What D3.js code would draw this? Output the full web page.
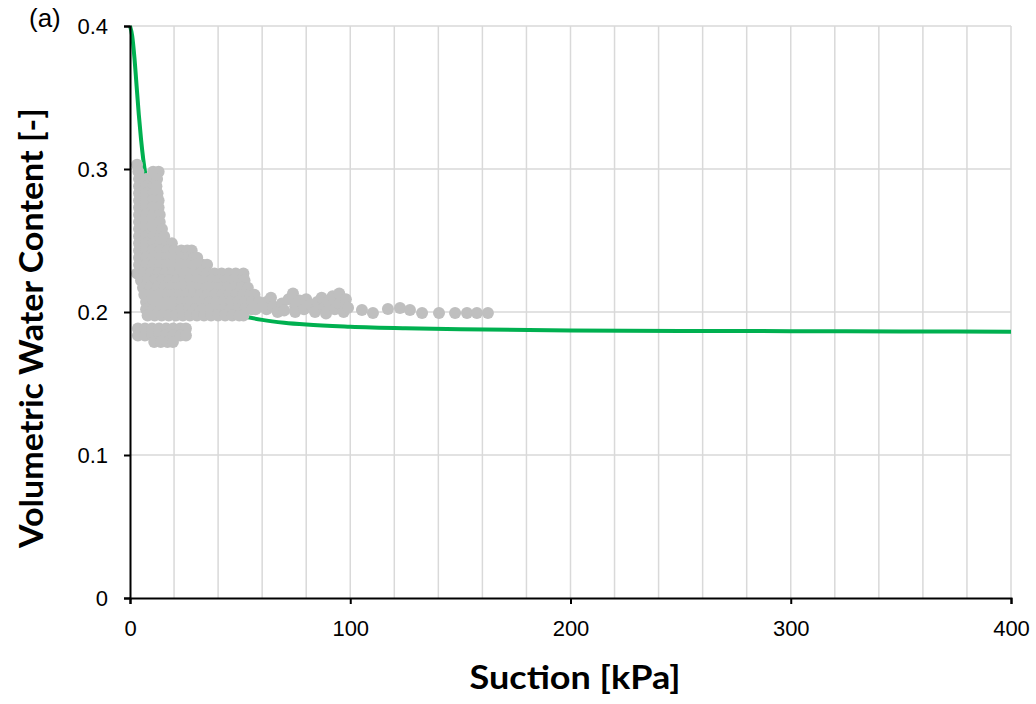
<!DOCTYPE html>
<html>
<head>
<meta charset="utf-8">
<script src="https://cdn.jsdelivr.net/npm/d3@7"></script>
<style>
  body { margin: 0; background: #fff; }
  .tick text { font-family: "Liberation Sans", Arial, sans-serif; font-size: 22px; fill: #000; }
  .title { font-family: Lato, "Open Sans", sans-serif; font-weight: bold; font-size: 33px; fill: #000; }
</style>
</head>
<body>
<svg width="1036" height="704"></svg>
<script>
// fitted retention curve (green)
var curveSuction = [0, 1, 2, 3, 4, 5, 6, 7, 8, 10, 12, 15, 20, 25, 30, 40, 50, 60, 70, 80, 100, 125, 150, 200, 250, 300, 350, 400];
var curveTheta = [0.400, 0.393, 0.378, 0.358, 0.338, 0.321, 0.307, 0.296, 0.286, 0.269, 0.256, 0.241, 0.226, 0.216, 0.209, 0.2015, 0.1975, 0.1945, 0.1925, 0.1912, 0.1897, 0.1886, 0.1879, 0.1871, 0.1868, 0.1866, 0.1864, 0.1862];

// measured points, dense part grouped by water content: [theta, suctions]
var cloudRows = [
    [0.303, [3.2]],
    [0.298, [3.8, 10.5, 13]],
    [0.293, [4.1, 7.3, 10.5, 12.3]],
    [0.288, [4.1, 7.3, 10.5, 12]],
    [0.283, [4.1, 7.3, 10.5, 12.5]],
    [0.278, [4.1, 7.3, 10.5, 13]],
    [0.273, [4.1, 7.3, 10.5, 13]],
    [0.268, [4.1, 7.3, 10.5, 13.5]],
    [0.263, [4.1, 7.3, 10.5, 13.5]],
    [0.258, [4.1, 7.3, 10.5, 13.7, 14.5]],
    [0.253, [4.1, 7.3, 10.5, 13.7, 15.5]],
    [0.248, [4.1, 7.3, 10.5, 13.7, 16.9, 19]],
    [0.243, [4.1, 7.3, 10.5, 13.7, 16.9, 20.1, 23.3, 26, 28]],
    [0.238, [4.1, 7.3, 10.5, 13.7, 16.9, 20.1, 23.3, 26.5, 29, 30.5]],
    [0.233, [4.1, 7.3, 10.5, 13.7, 16.9, 20.1, 23.3, 26.5, 29.7, 32.9, 35]],
    [0.227, [3.2, 6.4, 9.6, 12.8, 16, 19.2, 22.4, 25.6, 28.8, 32, 35.2, 38.4, 41.6, 44.8, 48, 51.5]],
    [0.222, [5, 8.2, 11.4, 14.6, 17.8, 21, 24.2, 27.4, 30.6, 33.8, 37, 40.2, 43.4, 46.6, 49.8, 52]],
    [0.217, [5.9, 9.1, 12.3, 15.5, 18.7, 21.9, 25.1, 28.3, 31.5, 34.7, 37.9, 41.1, 44.3, 47.5, 50.7, 53.5]],
    [0.212, [6.5, 9.7, 12.9, 16.1, 19.3, 22.5, 25.7, 28.9, 32.1, 35.3, 38.5, 41.7, 44.9, 48.1, 51.3, 54.5, 56.5]],
    [0.207, [7.3, 10.5, 13.7, 16.9, 20.1, 23.3, 26.5, 29.7, 32.9, 36.1, 39.3, 42.5, 45.7, 48.9, 52.1, 55.3, 58.5]],
    [0.202, [7.3, 10.5, 13.7, 16.9, 20.1, 23.3, 26.5, 29.7, 32.9, 36.1, 39.3, 42.5, 45.7, 48.9, 52.1, 55.3, 57]],
    [0.1975, [8, 11.2, 14.4, 17.6, 20.8, 24, 27.2, 30.4, 33.6, 36.8, 40, 43.2, 46.4, 49.6, 51.5]],
    [0.1885, [3.6, 6.8, 10, 13.2, 16.4, 19.6, 22.8, 25.4]],
    [0.1835, [3.6, 6.8, 10, 13.2, 16.4, 19.6, 22.8, 25.4]],
    [0.179, [11, 14, 17, 19.5]]
];

// scattered points at higher suction
var sparseSuction = [62, 62, 64, 65, 67, 69, 70, 72, 74, 75, 75, 77, 79, 80, 82, 84, 85, 87, 88, 89, 90, 92, 93, 95, 95, 97, 98, 99,
    105.3, 110.3, 117.1, 122.6, 127.1, 132.6, 140.3, 147.6, 153, 157.5, 162.5];
var sparseTheta = [0.207, 0.202, 0.210, 0.204, 0.200, 0.206, 0.201, 0.209, 0.213, 0.204, 0.200, 0.208, 0.202, 0.209, 0.205, 0.200, 0.207, 0.210, 0.203, 0.199, 0.207, 0.211, 0.202, 0.213, 0.206, 0.200, 0.209, 0.203,
    0.2014, 0.1993, 0.2021, 0.2028, 0.2014, 0.1993, 0.1993, 0.1993, 0.1993, 0.1993, 0.1993];

var xTicks = [0, 100, 200, 300, 400];
var yTicks = [0, 0.1, 0.2, 0.3, 0.4];

var points = [];
cloudRows.forEach(r => r[1].forEach(s => points.push({ s: s, t: r[0] })));
sparseSuction.forEach((s, i) => points.push({ s: s, t: sparseTheta[i] }));

var svg = d3.select("svg");
var x = d3.scaleLinear().domain([0, 400]).range([130, 1011]);
var y = d3.scaleLinear().domain([0, 0.4]).range([598, 26]);

// grid
svg.append("g")
    .selectAll("line")
    .data(d3.range(20, 401, 20))
    .join("line")
    .attr("x1", d => x(d)).attr("x2", d => x(d))
    .attr("y1", y(0)).attr("y2", y(0.4))
    .attr("stroke", "#d9d9d9").attr("stroke-width", 1.5);
svg.append("g")
    .selectAll("line")
    .data(yTicks.slice(1))
    .join("line")
    .attr("x1", x(0)).attr("x2", x(400))
    .attr("y1", d => y(d)).attr("y2", d => y(d))
    .attr("stroke", "#d9d9d9").attr("stroke-width", 1.5);

// curve first, points drawn on top
var line = d3.line().x(d => x(d)).y((d, i) => y(curveTheta[i])).curve(d3.curveMonotoneX);
svg.append("path")
    .attr("d", line(curveSuction))
    .attr("fill", "none")
    .attr("stroke", "#00b050")
    .attr("stroke-width", 4);

svg.append("g")
    .selectAll("circle")
    .data(points)
    .join("circle")
    .attr("cx", d => x(d.s))
    .attr("cy", d => y(d.t))
    .attr("r", 6)
    .attr("fill", "#bfbfbf");

// axes
var xAxis = svg.append("g")
    .attr("transform", `translate(0, ${y(0)})`)
    .call(d3.axisBottom(x).tickValues(xTicks).tickFormat(d3.format("d")).tickSize(6).tickPadding(16));
var yAxis = svg.append("g")
    .attr("transform", `translate(${x(0)}, 0)`)
    .call(d3.axisLeft(y).tickValues(yTicks).tickFormat(d => d === 0 ? "0" : d3.format(".1f")(d)).tickSize(6).tickPadding(16));
[xAxis, yAxis].forEach(a => {
    a.select(".domain").attr("stroke", "#000").attr("stroke-width", 2);
    a.selectAll(".tick line").attr("stroke", "#000").attr("stroke-width", 2);
});

svg.append("text")
    .attr("class", "title")
    .attr("x", 575).attr("y", 689)
    .attr("text-anchor", "middle")
    .attr("textLength", 211)
    .attr("lengthAdjust", "spacingAndGlyphs")
    .text("Suction [kPa]");
svg.append("text")
    .attr("class", "title")
    .attr("transform", "translate(43, 328) rotate(-90)")
    .attr("text-anchor", "middle")
    .attr("textLength", 440)
    .attr("lengthAdjust", "spacingAndGlyphs")
    .text("Volumetric Water Content [-]");
svg.append("text")
    .attr("x", 29).attr("y", 27)
    .attr("font-family", "Liberation Sans, Arial, sans-serif")
    .attr("font-size", 26)
    .text("(a)");
</script>
</body>
</html>
